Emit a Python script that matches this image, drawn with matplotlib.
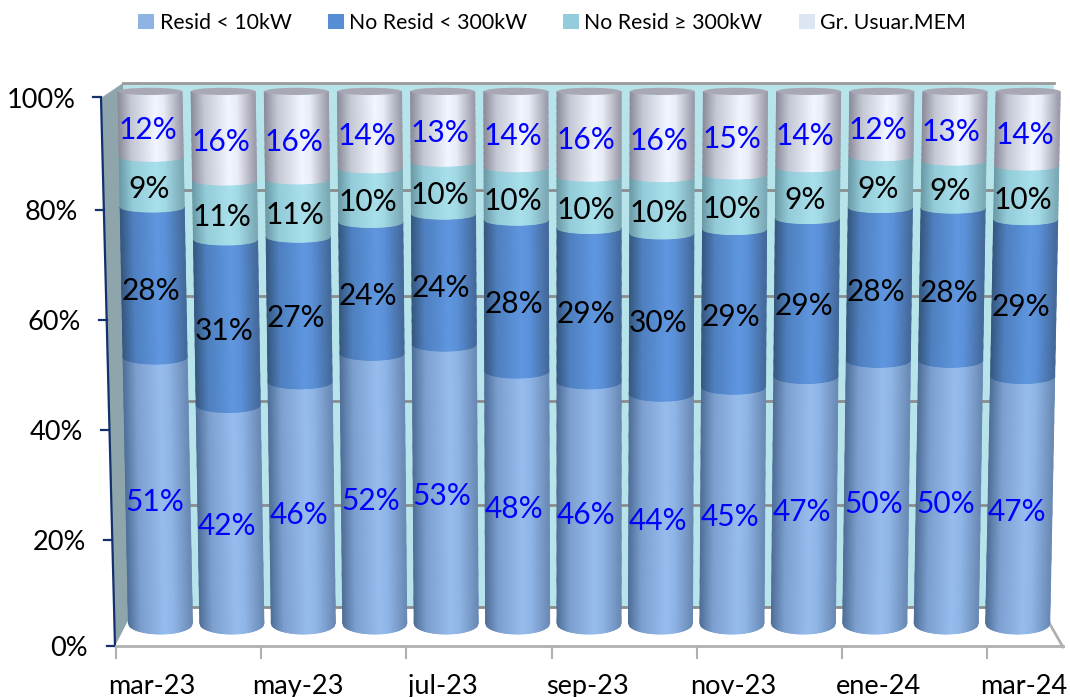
import numpy as np
import matplotlib
matplotlib.use("Agg")
import matplotlib.pyplot as plt
from matplotlib.colors import LinearSegmentedColormap
from matplotlib.patches import Polygon, Ellipse

plt.rcParams["font.family"] = ["Lato", "DejaVu Sans"]

months = ["mar-23", "abr-23", "may-23", "jun-23", "jul-23", "ago-23", "sep-23",
          "oct-23", "nov-23", "dic-23", "ene-24", "feb-24", "mar-24"]
# shares, they round to the printed labels
resid_small = [51.0, 42.0, 46.4, 51.7, 53.4, 48.4, 46.4, 44.1, 45.4, 47.4, 50.4, 50.4, 47.4]
noresid_small = [27.9, 30.9, 27.0, 24.4, 24.2, 28.1, 28.6, 29.9, 29.4, 29.4, 28.4, 28.3, 29.2]
noresid_big = [9.2, 10.9, 10.6, 9.9, 9.6, 9.7, 9.5, 10.4, 10.1, 9.4, 9.4, 8.7, 9.9]
usuarios_mem = [11.9, 16.2, 16.0, 14.0, 12.8, 13.8, 15.5, 15.6, 15.1, 13.8, 11.8, 12.6, 13.5]

series = [resid_small, noresid_small, noresid_big, usuarios_mem]
names = ["Resid < 10kW", "No Resid < 300kW", "No Resid \u2265 300kW", "Gr. Usuar.MEM"]
legend_colors = ["#8db4e3", "#558ed5", "#93cddd", "#dce6f2"]
label_colors = ["#0000ff", "black", "black", "#0000ff"]
# cylinder shading, left edge to right edge
shades = [
    ["#4f6f98", "#7c9fcf", "#97bdee", "#8fb5e6", "#6a8ab5"],
    ["#36587f", "#4f80c0", "#5f97e0", "#5a90d8", "#44699a"],
    ["#6b9aa6", "#93cbd8", "#a9e0ec", "#a0d8e4", "#7aa8b4"],
    ["#8c8c9a", "#c4c8d4", "#f2f6ff", "#e8ecf6", "#9a9aa8"],
]

y_ticks = [0, 20, 40, 60, 80, 100]
y_tick_px = [646, 540, 430, 320, 210, 97]
grid_px = [190, 296, 401, 505, 607]

W, H = 1070, 697
fig = plt.figure(figsize=(W / 100, H / 100), dpi=100)

# walls and floor of the 3D box, in pixels
bg = fig.add_axes([0, 0, 1, 1])
bg.set_xlim(0, W)
bg.set_ylim(H, 0)
bg.axis("off")
bg.add_patch(Polygon([(123, 83), (1054, 83), (1040, 607), (135, 607)], fc="#b7e3ea", ec="none"))
bg.add_patch(Polygon([(101, 98), (123, 83), (135, 607), (115, 646)], fc="#8ea6ab", ec="none"))
bg.plot([123, 1054], [83, 83], color="#9a9a9a", lw=2)
for gy in grid_px:
    bg.plot([130, 1045], [gy, gy], color="#8c8c8c", lw=2)
bg.plot([1040, 1063], [607, 647], color="#b0b0b0", lw=2)
bg.plot([101, 115], [98, 646], color="#14306e", lw=1.6)
for v, py in zip(y_ticks, y_tick_px):
    frac = (py - 98) / 548
    xl = 101 + frac * 14
    bg.plot([xl - 8, xl], [py, py], color="#14306e", lw=1.6)
    bg.text(76 + frac * 12, py + 3, f"{v}%", ha="right", va="center", fontsize=19.5, color="black")


def lift(v):
    # height above the floor in pixels, the view is not quite linear
    return 5.194 * np.asarray(v, dtype=float) + 0.00196 * np.asarray(v, dtype=float) ** 2


def unlift(p):
    return (-5.194 + np.sqrt(5.194 ** 2 + 4 * 0.00196 * np.asarray(p, dtype=float))) / (2 * 0.00196)


# front plane: category index on x, share of total on y
ax = fig.add_axes([116 / W, (H - 646) / H, (1063 - 116) / W, (646 - 80) / H])
ax.patch.set_alpha(0)
ax.set_xlim(-0.5, -0.5 + (1063 - 116) / 72.6)
ax.set_yscale("function", functions=(lift, unlift))
ax.set_ylim(unlift(-12), unlift(554))
for s in ["top", "left", "right"]:
    ax.spines[s].set_visible(False)
ax.spines["bottom"].set_color("#b0b0b0")
ax.spines["bottom"].set_linewidth(2)
ax.set_yticks([])
ax.set_yticks([], minor=True)
ax.set_xticks(np.arange(0, 13, 2) - 0.5)
ax.set_xticklabels([])
ax.tick_params(axis="x", which="major", length=9, width=1.5, color="#b0b0b0")
ax.set_xticks(np.arange(0, 13, 2), minor=True)
ax.set_xticklabels(months[::2], minor=True, fontsize=19.5)
ax.tick_params(axis="x", which="minor", length=0, pad=20)


def bar_x(i, v):
    # columns spread out slightly towards the top
    return 6.016 + (i - 6) * (0.984 + 0.024 * np.asarray(v) / 100)


def sag(v):
    # how far the front of a slice sits below its edges
    return (3.5 + 7.5 * (1 - np.asarray(v) / 100)) / 5.41


data = np.array(series, dtype=float)
shares = data / data.sum(axis=0) * 100
half_w = 32 / 72.6
u = np.linspace(-1, 1, 61)
for k in range(4):
    cmap = LinearSegmentedColormap.from_list(f"s{k}", list(zip([0, 0.2, 0.58, 0.72, 1], shades[k])))
    for i in range(13):
        lo = shares[:k, i].sum()
        hi = shares[:k + 1, i].sum()
        vv = np.linspace(lo, hi, 12)
        X = np.array([bar_x(i, v) + u * half_w for v in vv])
        Y = np.array([v + sag(v) * (1 - np.sqrt(1 - u ** 2)) for v in vv])
        C = np.tile((u + 1) / 2, (len(vv), 1))
        ax.pcolormesh(X, Y, C, shading="gouraud", cmap=cmap, vmin=0, vmax=1, clip_on=False, zorder=3)
        px = bar_x(i, (lo + hi) / 2) - 3 / 72.6
        ax.text(px, (lo + hi) / 2 - 0.4, f"{series[k][i]:.0f}%", color=label_colors[k],
                ha="center", va="center", fontsize=21.5, zorder=5)

for i in range(13):
    ax.add_patch(Ellipse((bar_x(i, 100), 100 + sag(100)), 2 * half_w, 2 * sag(100),
                         fc="#a8a8b4", ec="none", zorder=4))

# legend
handles = [plt.Rectangle((0, 0), 1, 1, fc=c, ec="none") for c in legend_colors]
fig.legend(handles, names, loc="upper center", bbox_to_anchor=(0.516, 1.009), ncol=4, frameon=False,
           fontsize=15.3, handlelength=0.75, handleheight=0.75, handletextpad=0.25, columnspacing=1.7)

fig.savefig("out.png", dpi=100)
